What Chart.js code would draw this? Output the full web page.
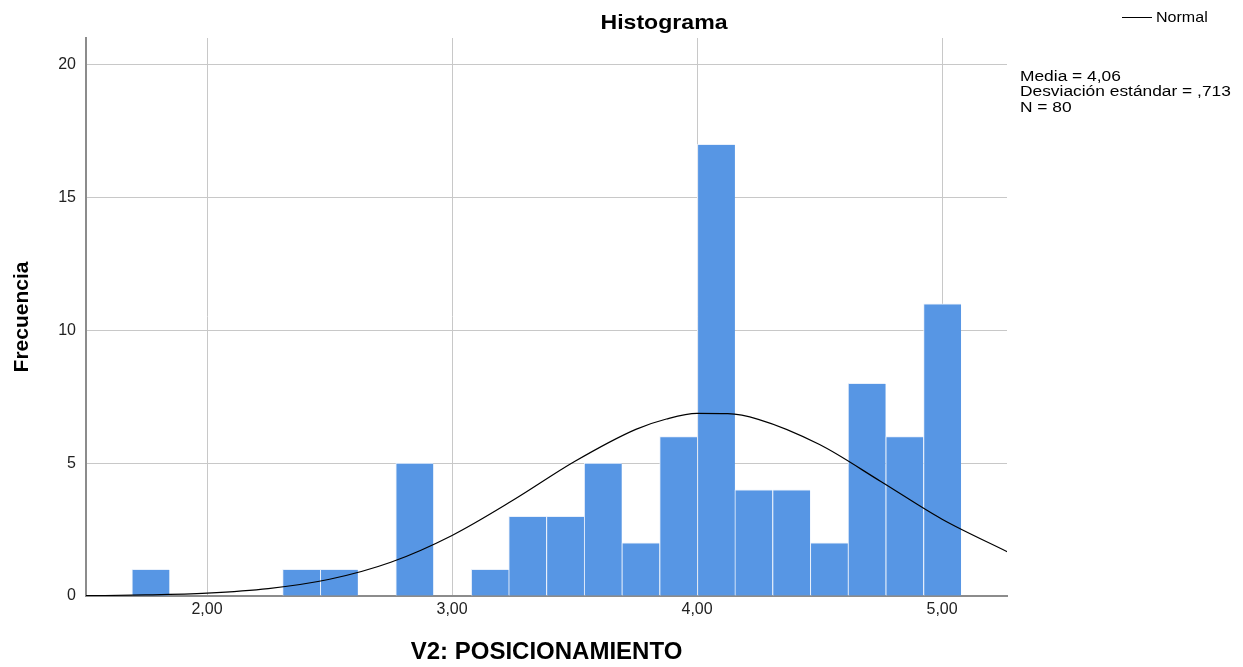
<!DOCTYPE html>
<html lang="es">
<head>
<meta charset="utf-8">
<title>Histograma</title>
<script src="https://cdn.jsdelivr.net/npm/chart.js@4.4.1/dist/chart.umd.min.js"></script>
<style>
  html, body { margin: 0; padding: 0; background: #fff; }
  #caja { position: relative; width: 1243px; height: 667px; }
</style>
</head>
<body>
<div id="caja"><canvas id="graficoHistograma"></canvas></div>
<script>
// Centros de los intervalos y frecuencias (V2: POSICIONAMIENTO)
const centrosIntervalos = [1.770, 1.924, 2.078, 2.232, 2.385, 2.539, 2.693, 2.847, 3.001, 3.155, 3.308,
                           3.462, 3.616, 3.770, 3.924, 4.078, 4.231, 4.385, 4.539, 4.693, 4.847, 5.001];
const frecuencias = [1, 0, 0, 0, 1, 1, 0, 5, 0, 1, 3,
                     3, 5, 2, 6, 17, 4, 4, 2, 8, 6, 11];

// Curva normal
const curvaX = [1.50, 1.75, 2.00, 2.25, 2.50, 2.75, 3.00, 3.25, 3.50, 3.75, 3.875, 4.00, 4.125, 4.25, 4.50, 4.75, 5.00, 5.27];
const curvaY = [0.01, 0.04, 0.11, 0.28, 0.63, 1.27, 2.28, 3.61, 5.06, 6.27, 6.66, 6.87, 6.86, 6.65, 5.70, 4.31, 2.89, 1.65];

const ticksX = [2, 3, 4, 5];
const etiquetasX = ['2,00', '3,00', '4,00', '5,00'];
const ticksY = [0, 5, 10, 15, 20];

const tituloGrafico = 'Histograma';
const textoLeyenda = 'Normal';
const estadisticos = ['Media = 4,06', 'Desviación estándar = ,713', 'N = 80'];

const FUENTE = '"Liberation Sans", Arial, sans-serif';

function escribir(ctx, texto, x, y, escalaX) {
    ctx.save();
    ctx.translate(x, y);
    ctx.scale(escalaX, 1);
    ctx.fillText(texto, 0, 0);
    ctx.restore();
}

// Título, leyenda y estadísticos a la derecha
const textosExtra = {
    id: 'textosExtra',
    afterDraw(chart) {
        const ctx = chart.ctx;
        ctx.save();
        ctx.fillStyle = '#000';
        ctx.textBaseline = 'alphabetic';

        ctx.font = 'bold 21px ' + FUENTE;
        ctx.textAlign = 'center';
        escribir(ctx, tituloGrafico, 664, 29, 1.1);

        ctx.strokeStyle = '#000';
        ctx.lineWidth = 1;
        ctx.beginPath();
        ctx.moveTo(1122, 17.5);
        ctx.lineTo(1152, 17.5);
        ctx.stroke();

        ctx.textAlign = 'left';
        ctx.font = '15px ' + FUENTE;
        escribir(ctx, textoLeyenda, 1156, 22, 1.07);

        ctx.font = '14px ' + FUENTE;
        estadisticos.forEach((t, i) => escribir(ctx, t, 1020, 80.5 + i * 15.5, 1.24));
        ctx.restore();
    }
};

const ctx = document.getElementById('graficoHistograma').getContext('2d');
window.graficoHistograma = new Chart(ctx, {
    type: 'bar',
    data: {
        datasets: [{
            type: 'line',
            label: textoLeyenda,
            data: curvaX.map((x, i) => ({ x: x, y: curvaY[i] })),
            borderColor: '#000',
            borderWidth: 1.2,
            pointRadius: 0,
            fill: false,
            cubicInterpolationMode: 'monotone',
            order: 0
        }, {
            type: 'bar',
            label: 'Frecuencia',
            data: centrosIntervalos.map((x, i) => ({ x: x, y: frecuencias[i] })),
            backgroundColor: '#5796e4',
            borderColor: '#e8f0fb',
            borderWidth: { top: 1, left: 1, right: 0, bottom: 0 },
            borderSkipped: false,
            barPercentage: 1,
            categoryPercentage: 1,
            order: 1
        }]
    },
    options: {
        responsive: true,
        maintainAspectRatio: false,
        animation: false,
        layout: { padding: { top: 38, right: 236, bottom: 0, left: 0 } },
        plugins: {
            legend: { display: false },
            title: { display: false },
            tooltip: { enabled: false }
        },
        scales: {
            x: {
                type: 'linear',
                min: 1.506,
                max: 5.265,
                offset: false,
                afterBuildTicks: (scale) => { scale.ticks = ticksX.map(v => ({ value: v })); },
                afterFit: (scale) => { scale.height = 71; },
                ticks: {
                    padding: 4,
                    color: '#222',
                    font: { family: FUENTE, size: 16 },
                    callback: (value) => etiquetasX[ticksX.indexOf(value)],
                    maxRotation: 0
                },
                grid: { color: '#c8c8c8', lineWidth: 1, drawTicks: false, offset: false },
                border: { color: '#8c8c8c', width: 2 },
                title: {
                    display: true,
                    text: 'V2: POSICIONAMIENTO',
                    color: '#000',
                    font: { family: FUENTE, size: 24, weight: 'bold' },
                    padding: { top: 0, bottom: 0 }
                }
            },
            y: {
                min: 0,
                max: 21,
                afterBuildTicks: (scale) => { scale.ticks = ticksY.map(v => ({ value: v })); },
                afterFit: (scale) => { scale.width = 86; },
                ticks: {
                    padding: 10,
                    color: '#222',
                    font: { family: FUENTE, size: 16 }
                },
                grid: { color: '#c8c8c8', lineWidth: 1, drawTicks: false },
                border: { color: '#8c8c8c', width: 2 },
                title: {
                    display: true,
                    text: 'Frecuencia',
                    color: '#000',
                    font: { family: FUENTE, size: 21, weight: 'bold' },
                    padding: { top: 10, bottom: 0 }
                }
            }
        }
    },
    plugins: [textosExtra]
});
</script>
</body>
</html>
